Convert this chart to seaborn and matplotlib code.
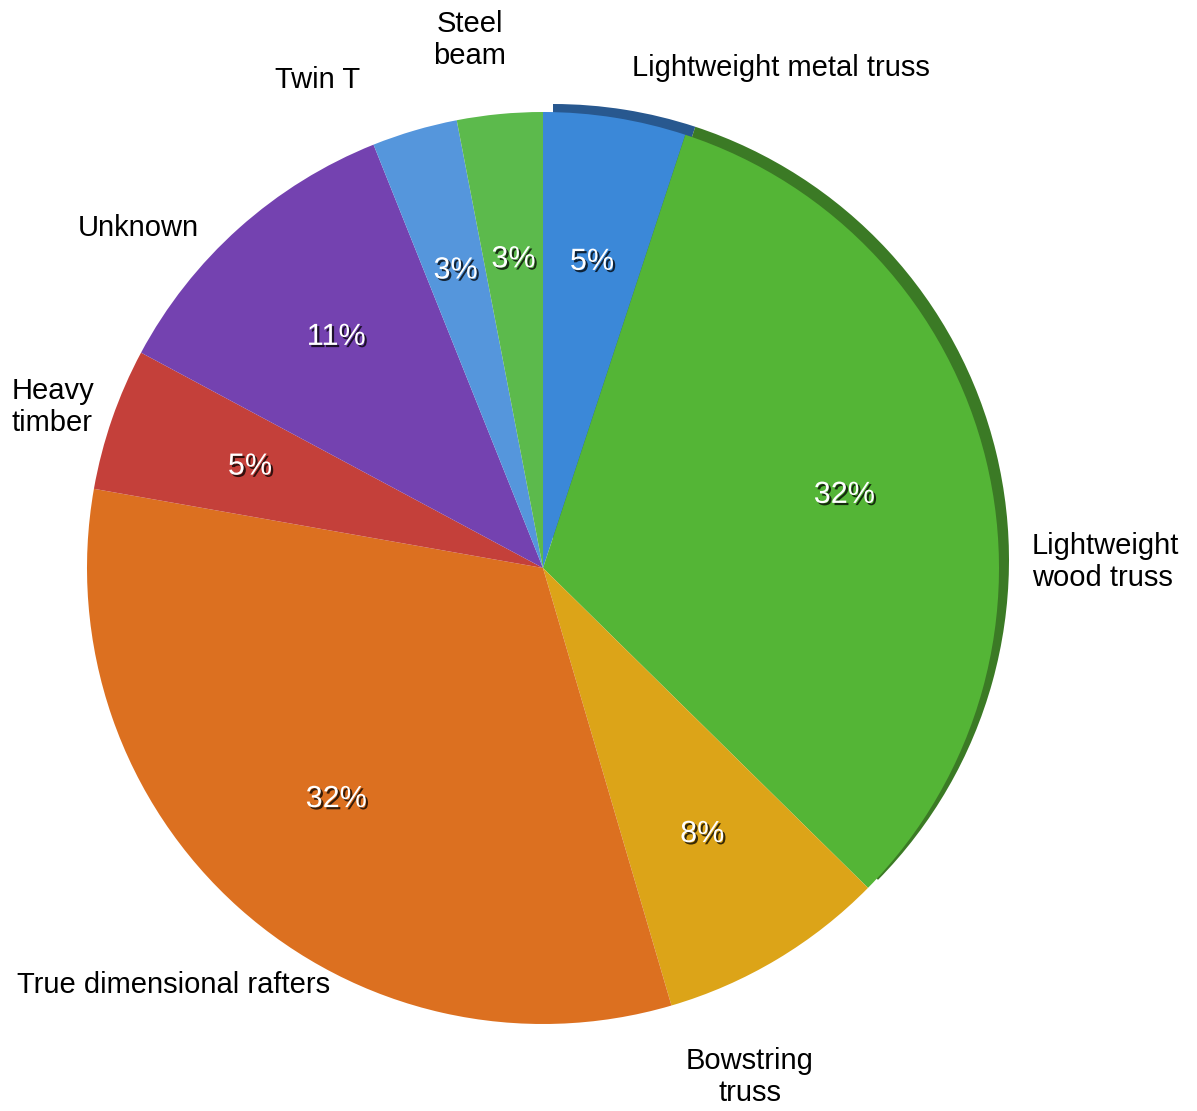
import matplotlib
matplotlib.use("Agg")
import matplotlib.pyplot as plt
import matplotlib.patheffects as pe
import seaborn as sns

# Roof construction types (share of cases, %)
categories = [
    "Lightweight metal truss",
    "Lightweight\nwood truss",
    "Bowstring\ntruss",
    "True dimensional rafters",
    "Heavy\ntimber",
    "Unknown",
    "Twin T",
    "Steel\nbeam",
]
values = [5, 32, 8, 32, 5, 11, 3, 3]
colors = ["#3b88d8", "#54b536", "#dca418", "#dc7020",
          "#c4403a", "#7442b0", "#5596dc", "#5cba4c"]
# darker extrusion colours for the raised top-right rim (None = no rim)
rim_colors = ["#28588f", "#3b7a25", None, None, None, None, None, None]

sns.set_theme(style="white")
plt.rcParams["font.family"] = ["Liberation Sans", "DejaVu Sans"]

W, H = 1197, 1111
fig = plt.figure(figsize=(W / 100, H / 100), dpi=100)
ax = fig.add_axes([0, 0, 1, 1])

cx, cy, r = 543, H - 568, 456

# back layer: rim of the extruded slices, shifted up and to the right
ax.pie(values, colors=[c if c else "none" for c in rim_colors],
       startangle=90, counterclock=False, radius=r,
       center=(cx + 10, cy + 8), wedgeprops=dict(linewidth=0))

wedges, texts, autotexts = ax.pie(
    values, labels=categories, colors=colors, startangle=90,
    counterclock=False, radius=r, center=(cx, cy), autopct="%.0f%%",
    pctdistance=0.68, wedgeprops=dict(linewidth=0),
    textprops=dict(fontsize=21),
)

shadow = [pe.SimplePatchShadow(offset=(1.6, -1.6), shadow_rgbFace="black", alpha=0.75),
          pe.Normal()]
for t in autotexts:
    t.set_color("white")
    t.set_fontsize(22)
    t.set_path_effects(shadow)

# outer category labels
label_layout = [
    (632, 68, "left", "left"),
    (1032, 562, "left", "left"),
    (750, 1077, "center", "center"),
    (17, 985, "left", "left"),
    (53, 407, "center", "left"),
    (78, 228, "left", "left"),
    (275, 80, "left", "left"),
    (470, 40, "center", "center"),
]
for t, (x, y, ha, ma) in zip(texts, label_layout):
    t.set_position((x, H - y))
    t.set_ha(ha)
    t.set_va("center")
    t.set_multialignment(ma)
    t.set_color("black")
    t.set_fontsize(21)
    t.set_linespacing(1.2)

ax.set_xlim(0, W)
ax.set_ylim(0, H)
ax.set_aspect("equal")
ax.axis("off")

fig.savefig("out.png", dpi=100, facecolor="white")
